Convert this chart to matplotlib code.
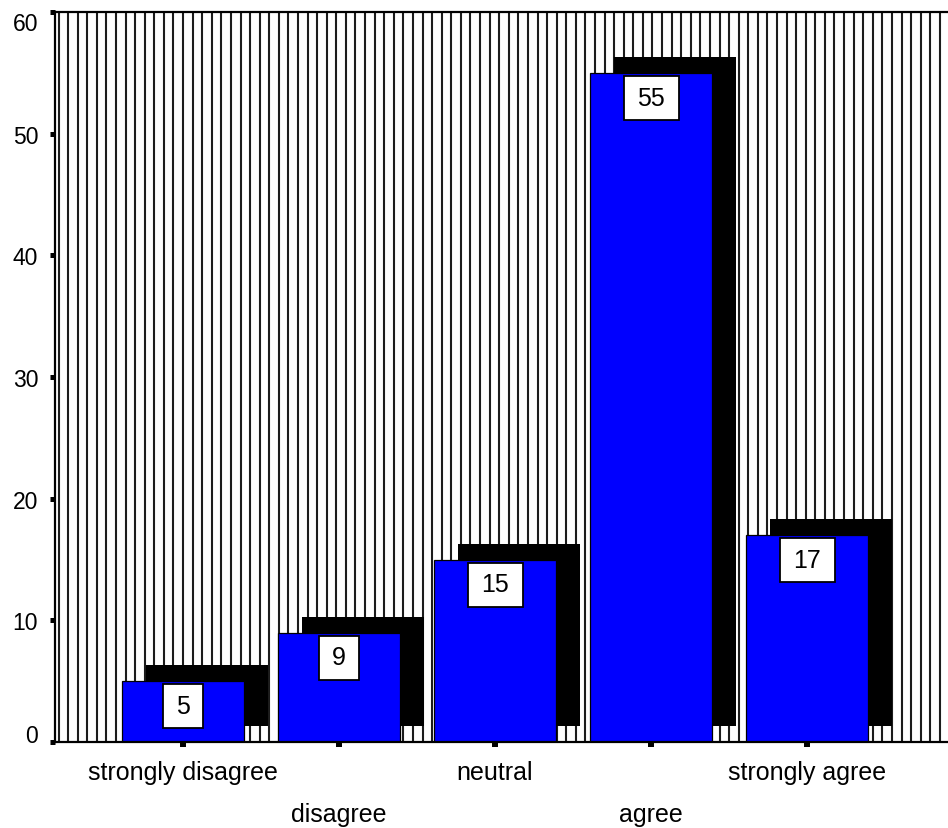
import matplotlib
matplotlib.use("Agg")
import matplotlib.pyplot as plt
from matplotlib.patches import Rectangle
import numpy as np

plt.rcParams['font.family'] = ['Liberation Sans', 'DejaVu Sans']

# Response categories and their values
categories = ["strongly disagree", "disagree", "neutral", "agree", "strongly agree"]
values = [5, 9, 15, 55, 17]
value_labels = [str(v) for v in values]
y_ticks = [0, 10, 20, 30, 40, 50, 60]

W, H, DPI = 948, 829, 100
fig = plt.figure(figsize=(W / DPI, H / DPI), dpi=DPI)

# axes placement in pixels
ax_left, ax_bottom_px, ax_top_px, ax_right = 55, 743, 13, 948
ax = fig.add_axes([ax_left / W, (H - ax_bottom_px) / H,
                   (ax_right - ax_left) / W, (ax_bottom_px - ax_top_px) / H])

step_px = 156.0            # distance between category centres
first_px = 183.0           # centre of the first category
ax_w_px = ax_right - ax_left
ax_h_px = ax_bottom_px - ax_top_px
x0 = -(first_px - ax_left) / step_px
ax.set_xlim(x0, x0 + ax_w_px / step_px)
ax.set_ylim(0, 60)

# pixel -> data unit conversions
dx_px = 1.0 / step_px
dy_px = 60.0 / ax_h_px

x = np.arange(len(categories))

# vertical line fill of the plotting area
hatch_step = 9.58
hatch_x = np.arange(3.5, ax_w_px, hatch_step) / ax_w_px
ax.vlines(hatch_x, 0, 1, transform=ax.transAxes, colors="#1c1c1c",
          linewidth=1.5, zorder=1)

bar_w = 0.785
shadow_dx = 24 * dx_px
shadow_dy = 16 * dy_px

# drop shadows behind the bars
ax.bar(x + shadow_dx, values, width=bar_w, bottom=shadow_dy,
       color="black", edgecolor="none", zorder=2)
# main bars
ax.bar(x, values, width=bar_w, color="#0000ff", edgecolor="black",
       linewidth=0.9, zorder=3)

# value boxes at the top of each bar
box_h = 44 * dy_px
for xi, v, lab in zip(x, values, value_labels):
    bw = (25 + 15 * len(lab)) * dx_px
    top = v - 3 * dy_px
    ax.add_patch(Rectangle((xi - bw / 2, top - box_h), bw, box_h,
                           facecolor="white", edgecolor="black",
                           linewidth=1.3, zorder=4))
    ax.text(xi, top - box_h / 2, lab, ha="center", va="center",
            fontsize=18, color="black", zorder=5)

# axes frame
for side in ("left", "bottom", "top"):
    ax.spines[side].set_linewidth(1.6)
    ax.spines[side].set_color("black")
    ax.spines[side].set_zorder(6)
ax.spines["right"].set_visible(False)

ax.set_yticks(y_ticks)
ax.set_yticklabels([str(t) for t in y_ticks])
ax.tick_params(axis="y", direction="out", length=3.6, width=3.6,
               pad=8.5, labelsize=16.5, colors="black")
# keep the end labels inside the axis range
ylabels = ax.get_yticklabels()
ylabels[0].set_va("baseline")
ylabels[-1].set_va("top")

ax.set_xticks(x)
ax.set_xticklabels([""] * len(x))
ax.tick_params(axis="x", direction="out", length=3.6, width=4.3,
               colors="black")

# category labels, alternating between two rows
for i, (xi, lab) in enumerate(zip(x, categories)):
    off = 37 if i % 2 == 0 else 79
    ax.annotate(lab, xy=(xi, 0), xycoords=("data", "axes fraction"),
                xytext=(0, -off), textcoords="offset pixels",
                ha="center", va="baseline", fontsize=18, color="black",
                annotation_clip=False)

fig.savefig("out.png", dpi=DPI)
